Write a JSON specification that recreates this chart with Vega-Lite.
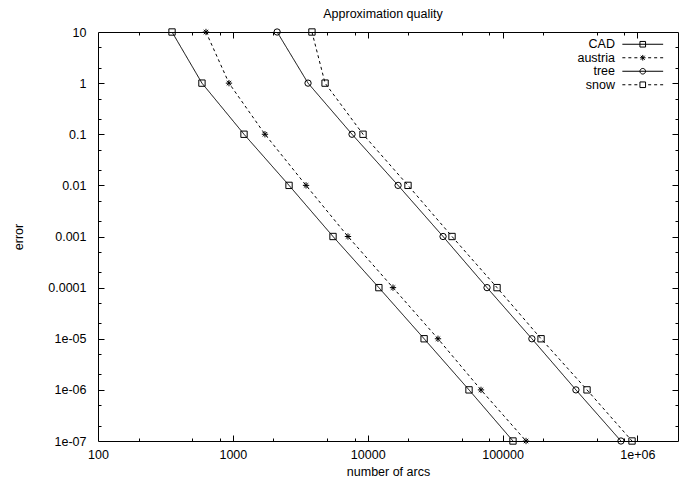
{
  "$schema": "https://vega.github.io/schema/vega-lite/v6.json",
  "autosize": "none",
  "width": 580,
  "height": 409,
  "padding": {"left": 98, "top": 32, "right": 9, "bottom": 46},
  "background": "white",
  "title": {"text": "Approximation quality", "font": "Liberation Sans", "fontSize": 12.5, "fontWeight": "normal", "color": "black", "anchor": "middle", "offset": 6, "dx": -5},
  "data": {"values": [
    {"series": "CAD", "arcs": 354, "error": 10},
    {"series": "CAD", "arcs": 590, "error": 1},
    {"series": "CAD", "arcs": 1210, "error": 0.1},
    {"series": "CAD", "arcs": 2610, "error": 0.01},
    {"series": "CAD", "arcs": 5530, "error": 0.001},
    {"series": "CAD", "arcs": 12100, "error": 0.0001},
    {"series": "CAD", "arcs": 26200, "error": 0.00001},
    {"series": "CAD", "arcs": 56400, "error": 0.000001},
    {"series": "CAD", "arcs": 119500, "error": 0.0000001},
    {"series": "austria", "arcs": 632, "error": 10},
    {"series": "austria", "arcs": 936, "error": 1},
    {"series": "austria", "arcs": 1730, "error": 0.1},
    {"series": "austria", "arcs": 3490, "error": 0.01},
    {"series": "austria", "arcs": 7140, "error": 0.001},
    {"series": "austria", "arcs": 15400, "error": 0.0001},
    {"series": "austria", "arcs": 33200, "error": 0.00001},
    {"series": "austria", "arcs": 69200, "error": 0.000001},
    {"series": "austria", "arcs": 149300, "error": 0.0000001},
    {"series": "tree", "arcs": 2130, "error": 10},
    {"series": "tree", "arcs": 3610, "error": 1},
    {"series": "tree", "arcs": 7650, "error": 0.1},
    {"series": "tree", "arcs": 16800, "error": 0.01},
    {"series": "tree", "arcs": 36200, "error": 0.001},
    {"series": "tree", "arcs": 76700, "error": 0.0001},
    {"series": "tree", "arcs": 165000, "error": 0.00001},
    {"series": "tree", "arcs": 350000, "error": 0.000001},
    {"series": "tree", "arcs": 755000, "error": 0.0000001},
    {"series": "snow", "arcs": 3860, "error": 10},
    {"series": "snow", "arcs": 4830, "error": 1},
    {"series": "snow", "arcs": 9230, "error": 0.1},
    {"series": "snow", "arcs": 19900, "error": 0.01},
    {"series": "snow", "arcs": 42200, "error": 0.001},
    {"series": "snow", "arcs": 91000, "error": 0.0001},
    {"series": "snow", "arcs": 193000, "error": 0.00001},
    {"series": "snow", "arcs": 423000, "error": 0.000001},
    {"series": "snow", "arcs": 912000, "error": 0.0000001}
  ]},
  "resolve": {"scale": {"shape": "independent"}},
  "layer": [
    {
      "mark": {"type": "line", "color": "black", "strokeWidth": 1},
      "encoding": {
        "x": {"field": "arcs", "type": "quantitative",
          "scale": {"type": "log", "domain": [100, 2000000], "nice": false},
          "axis": {"orient": "bottom", "title": "number of arcs", "ticks": false,
            "values": [100,1000,10000,100000,1000000],
            "labelExpr": "['100','1000','10000','100000','1e+06'][round(log(datum.value)/LN10)-2]",
            "labelPadding": 7, "titleY": 30, "titleBaseline": "middle"}},
        "y": {"field": "error", "type": "quantitative",
          "scale": {"type": "log", "domain": [0.0000001, 10], "nice": false},
          "axis": {"orient": "left", "title": "error", "ticks": false,
            "values": [0.0000001,0.000001,0.00001,0.0001,0.001,0.01,0.1,1,10],
            "labelExpr": "['10','1','0.1','0.01','0.001','0.0001','1e-05','1e-06','1e-07'][1 - round(log(datum.value)/LN10)]",
            "labelPadding": 12, "titleX": -80, "titleY": 204.5, "titleAngle": -90, "titleAlign": "center", "titleBaseline": "middle"}},
        "strokeDash": {"field": "series", "type": "nominal",
          "scale": {"domain": ["CAD", "austria", "tree", "snow"], "range": [[1, 0], [3, 3], [1, 0], [3, 3]]},
          "legend": null}
      }
    },
    {
      "mark": {"type": "point", "filled": false, "color": "black", "strokeWidth": 1, "size": 40, "opacity": 1},
      "encoding": {
        "x": {"field": "arcs", "type": "quantitative",
          "axis": {"orient": "top", "title": null, "labels": false, "ticks": false, "values": [100]}},
        "y": {"field": "error", "type": "quantitative",
          "axis": {"orient": "right", "title": null, "labels": false, "ticks": false, "values": [10]}},
        "shape": {"field": "series", "type": "nominal",
          "scale": {"domain": ["CAD", "austria", "tree", "snow"], "range": ["square", "M-1,0H1M0,-1V1M-0.7,-0.7L0.7,0.7M-0.7,0.7L0.7,-0.7", "circle", "square"]},
          "legend": null}
      }
    },
    {
      "mark": {"type": "point", "filled": false, "color": "black", "strokeWidth": 1, "size": 64, "opacity": 0},
      "encoding": {
        "x": {"field": "arcs", "type": "quantitative",
          "axis": {"orient": "top", "offset": -409, "title": null, "labels": false, "domain": false,
            "values": [200,500,800,1000,2000,5000,8000,10000,20000,50000,80000,100000,200000,500000,800000,1000000],
            "tickSize": {"condition": {"test": "abs(log(datum.value)/LN10 - round(log(datum.value)/LN10)) < 0.01", "value": 6}, "value": 3}}},
        "y": {"field": "error", "type": "quantitative",
          "axis": {"orient": "right", "offset": -580, "title": null, "labels": false, "domain": false,
            "values": [0.0000002,0.0000005,0.000001,0.000002,0.000005,0.00001,0.00002,0.00005,0.0001,0.0002,0.0005,0.001,0.002,0.005,0.01,0.02,0.05,0.1,0.2,0.5,1,2,5],
            "tickSize": {"condition": {"test": "abs(log(datum.value)/LN10 - round(log(datum.value)/LN10)) < 0.01", "value": 6}, "value": 3}}},
        "shape": {"field": "series", "type": "nominal",
          "scale": {"domain": ["CAD", "austria", "tree", "snow"], "range": [
            "M-5.1,0H5.1M-0.7,-0.7H0.7V0.7H-0.7Z",
            "M-5.1,0H-4.35M-3.6,0H-2.85M-2.1,0H-1.35M1.35,0H2.1M2.85,0H3.6M4.35,0H5.1M-0.7,0H0.7M0,-0.7V0.7M-0.5,-0.5L0.5,0.5M-0.5,0.5L0.5,-0.5",
            "M-5.1,0H5.1M-0.7,0A0.7,0.7 0 1,0 0.7,0A0.7,0.7 0 1,0 -0.7,0",
            "M-5.1,0H-4.35M-3.6,0H-2.85M-2.1,0H-1.35M1.35,0H2.1M2.85,0H3.6M4.35,0H5.1M-0.7,-0.7H0.7V0.7H-0.7Z"
          ]},
          "legend": {"orient": "none", "legendX": 538.5, "legendY": 6, "title": null,
            "labelAlign": "right", "labelOffset": -34, "labelFont": "Liberation Sans", "labelFontSize": 12.5, "labelColor": "black", "labelLimit": 0,
            "symbolStrokeColor": "black", "symbolStrokeWidth": 1, "symbolFillColor": "transparent", "symbolSize": 64, "symbolOpacity": 1,
            "rowPadding": 0.5, "padding": 0}
        }
      }
    },
    {
      "mark": {"type": "point", "color": "black", "size": 10, "opacity": 0},
      "encoding": {
        "x": {"field": "arcs", "type": "quantitative",
          "axis": {"orient": "bottom", "offset": -409, "title": null, "labels": false, "domain": false,
            "values": [200,500,800,1000,2000,5000,8000,10000,20000,50000,80000,100000,200000,500000,800000,1000000],
            "tickSize": {"condition": {"test": "abs(log(datum.value)/LN10 - round(log(datum.value)/LN10)) < 0.01", "value": 6}, "value": 3}}},
        "y": {"field": "error", "type": "quantitative",
          "axis": {"orient": "left", "offset": -580, "title": null, "labels": false, "domain": false,
            "values": [0.0000002,0.0000005,0.000001,0.000002,0.000005,0.00001,0.00002,0.00005,0.0001,0.0002,0.0005,0.001,0.002,0.005,0.01,0.02,0.05,0.1,0.2,0.5,1,2,5],
            "tickSize": {"condition": {"test": "abs(log(datum.value)/LN10 - round(log(datum.value)/LN10)) < 0.01", "value": 6}, "value": 3}}}
      }
    }
  ],
  "config": {
    "view": {"stroke": null},
    "axis": {"grid": false, "domainColor": "black", "domainWidth": 1, "tickColor": "black", "tickWidth": 1,
      "labelColor": "black", "labelFont": "Liberation Sans", "labelFontSize": 12.5, "labelOverlap": false, "labelFlush": false, "labelBound": false,
      "titleColor": "black", "titleFont": "Liberation Sans", "titleFontSize": 12.5, "titleFontWeight": "normal"}
  }
}
